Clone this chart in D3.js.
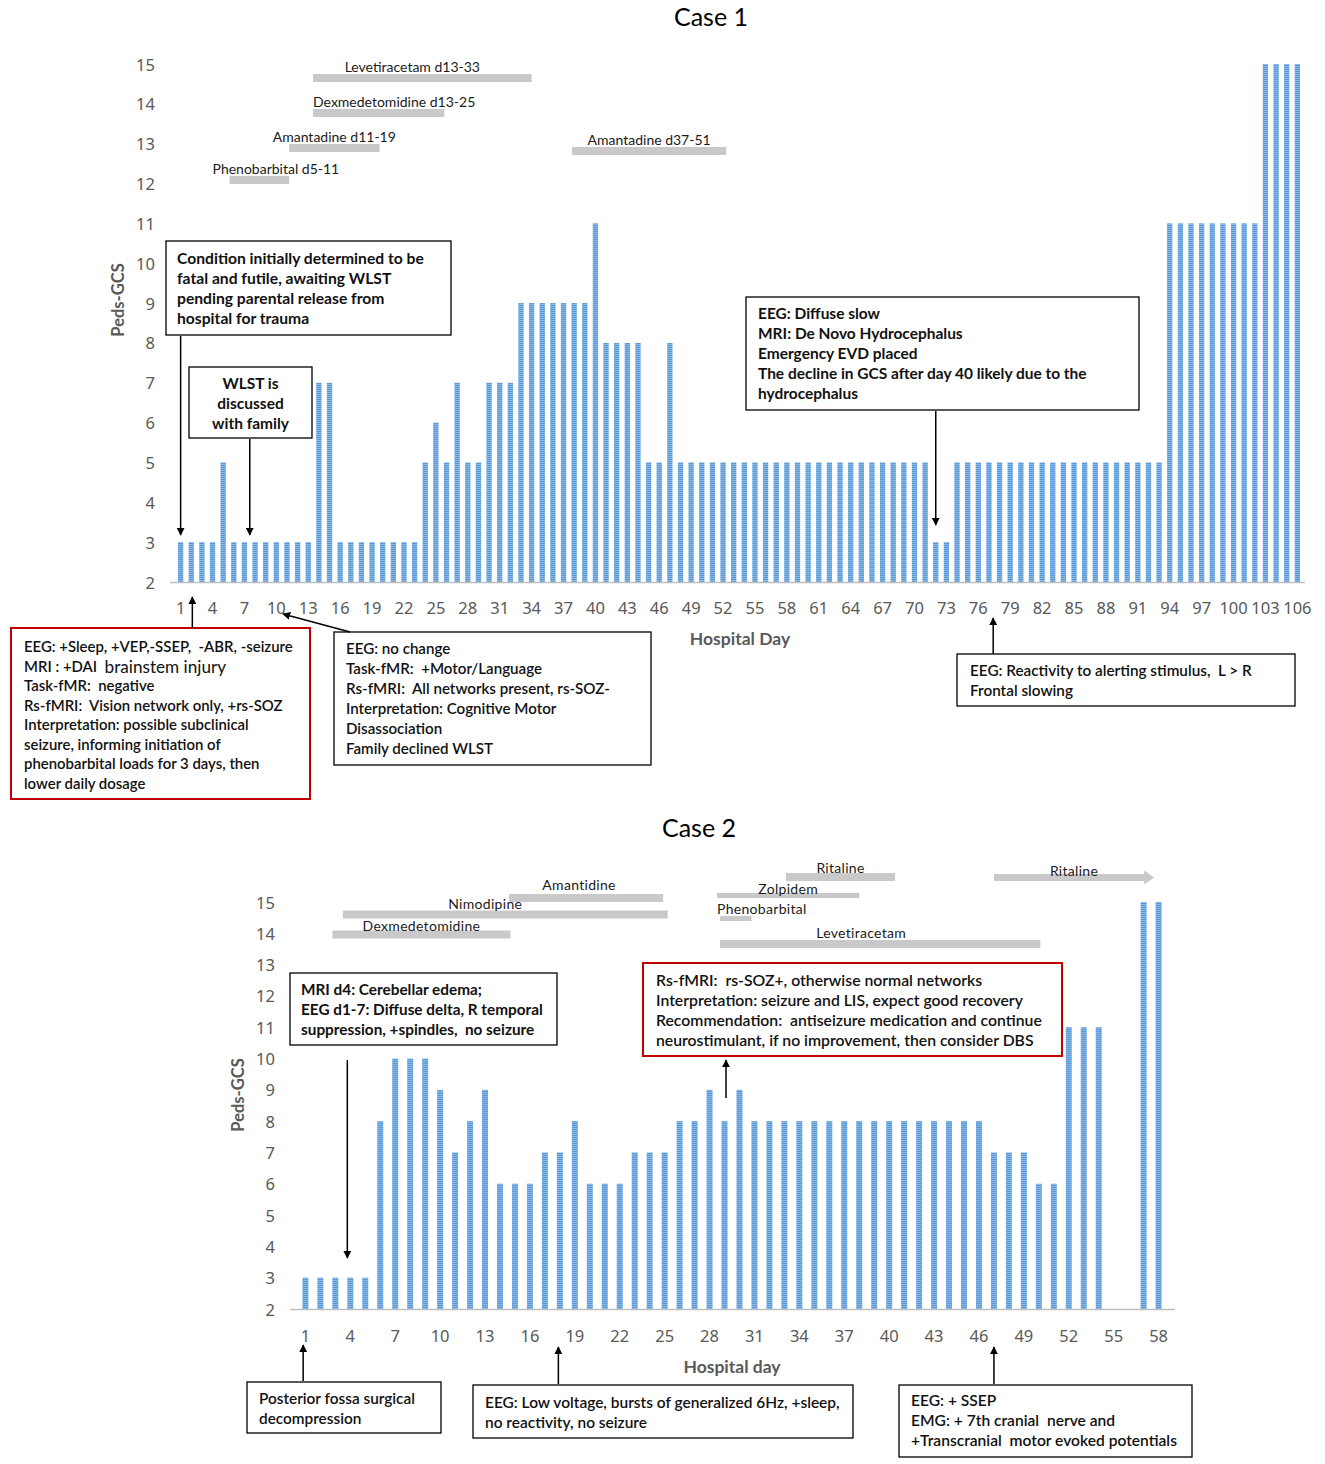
<!DOCTYPE html>
<html>
<head>
<meta charset="utf-8">
<script src="https://cdn.jsdelivr.net/npm/d3@7"></script>
<style>
  html, body { margin: 0; padding: 0; background: #fff; }
  svg { display: block; }
  text { white-space: pre; }
</style>
</head>
<body>
<svg id="chart" width="1325" height="1464"></svg>
<script>
// ---------------- DATA ----------------
const case1Days = d3.range(1, 107);
const case1Values = [
  3,3,3,3,5,3,3,3,3,3,
  3,3,3,7,7,3,3,3,3,3,
  3,3,3,5,6,5,7,5,5,7,
  7,7,9,9,9,9,9,9,9,11,
  8,8,8,8,5,5,8,5,5,5,
  5,5,5,5,5,5,5,5,5,5,
  5,5,5,5,5,5,5,5,5,5,
  5,3,3,5,5,5,5,5,5,5,
  5,5,5,5,5,5,5,5,5,5,
  5,5,5,11,11,11,11,11,11,11,
  11,11,15,15,15,15
];
const case1Ticks = d3.range(1, 107, 3);

const case2Days = d3.range(1, 59);
const case2Values = [
  3,3,3,3,3,8,10,10,10,9,
  7,8,9,6,6,6,7,7,8,6,
  6,6,7,7,7,8,8,9,8,9,
  8,8,8,8,8,8,8,8,8,8,
  8,8,8,8,8,8,7,7,7,6,
  6,11,11,11,null,null,15,15
];
const case2Ticks = d3.range(1, 59, 3);
const yTicks = d3.range(2, 16);

// medication timelines (day units)
const case1Meds = [
  {label: "Levetiracetam d13-33", start: 13.45, end: 34.0, row: 0, anchor: "middle"},
  {label: "Dexmedetomidine d13-25", start: 13.45, end: 25.8, row: 1, anchor: "start"},
  {label: "Amantadine d11-19", start: 11.2, end: 19.7, row: 2, anchor: "middle"},
  {label: "Phenobarbital d5-11", start: 5.6, end: 11.2, row: 3, anchor: "left5"},
  {label: "Amantadine d37-51", start: 37.8, end: 52.3, row: 4, anchor: "middle"}
];
const case2Meds = [
  {label: "Dexmedetomidine", start: 2.8, end: 14.7, arrow: false},
  {label: "Nimodipine", start: 3.5, end: 25.2, arrow: false},
  {label: "Amantidine", start: 14.6, end: 24.9, arrow: false},
  {label: "Ritaline", start: 33.1, end: 40.4, arrow: false},
  {label: "Zolpidem", start: 28.5, end: 38.0, arrow: false},
  {label: "Phenobarbital", start: 28.7, end: 30.8, arrow: false},
  {label: "Levetiracetam", start: 28.7, end: 50.1, arrow: false},
  {label: "Ritaline", start: 47.0, end: 57.7, arrow: true}
];

// ---------------- SETUP ----------------
const svg = d3.select("#chart");
const FONT = "Lato, 'Noto Sans', 'DejaVu Sans', sans-serif";
const TICKFONT = "'Noto Sans', 'DejaVu Sans', sans-serif";
const medGray = "#c9c9c9";
const axisGray = "#595959";

const defs = svg.append("defs");
const pat = defs.append("pattern").attr("id", "barpat")
  .attr("patternUnits", "userSpaceOnUse").attr("width", 4).attr("height", 2);
pat.append("rect").attr("width", 4).attr("height", 2).attr("fill", "#5d9bd6");
pat.append("rect").attr("width", 4).attr("height", 1).attr("fill", "#86b6e6");

const mk = defs.append("marker").attr("id", "arrow")
  .attr("viewBox", "0 0 10 10").attr("refX", 9).attr("refY", 5)
  .attr("markerWidth", 8).attr("markerHeight", 8).attr("markerUnits", "userSpaceOnUse")
  .attr("orient", "auto-start-reverse");
mk.append("path").attr("d", "M0,0 L10,5 L0,10 z").attr("fill", "#000");

function textBox(g, b) {
  const pad = b.pad || 12;
  g.append("rect").attr("x", b.x).attr("y", b.y).attr("width", b.w).attr("height", b.h)
    .attr("fill", "#fff").attr("stroke", b.stroke || "#000").attr("stroke-width", b.sw || 1.3);
  const t = g.append("g");
  let size = b.size || 14;
  const texts = b.lines.map((ln, i) => {
    const tx = t.append("text")
      .attr("x", b.align === "middle" ? b.x + b.w / 2 : b.x + pad)
      .attr("y", b.firstY + i * (b.lh || 20))
      .attr("dominant-baseline", "central")
      .attr("text-anchor", b.align === "middle" ? "middle" : "start")
      .attr("font-family", FONT)
      .attr("font-weight", b.weight || "normal")
      .attr("fill", "#111");
    if (Array.isArray(ln)) {
      ln.forEach(seg => {
        tx.append("tspan").text(seg.t).attr("font-size", seg.big ? "1.15em" : null)
          .attr("font-weight", seg.big ? "normal" : null);
      });
    } else tx.text(ln);
    return tx;
  });
  const target = b.target || (b.w - 2 * pad);
  texts.forEach(tx => tx.attr("font-size", size));
  const maxW = d3.max(texts, tx => tx.node().getComputedTextLength());
  if (maxW > target) {
    size = size * target / maxW;
    texts.forEach(tx => tx.attr("font-size", size));
  }
}

function arrow(g, x1, y1, x2, y2) {
  g.append("line").attr("x1", x1).attr("y1", y1).attr("x2", x2).attr("y2", y2)
    .attr("stroke", "#000").attr("stroke-width", 1.5).attr("marker-end", "url(#arrow)");
}

// ---------------- CASE 1 ----------------
(function () {
  const g = svg.append("g");
  const x = d3.scaleBand().domain(case1Days).range([172.65, 1305.35]).padding(0.5);
  const xl = d3.scaleLinear().domain([1, 106]).range([x(1) + x.bandwidth() / 2, x(106) + x.bandwidth() / 2]);
  const y = d3.scaleLinear().domain([2, 15]).range([582, 64]);

  g.append("text").attr("x", 711).attr("y", 16).attr("text-anchor", "middle")
    .attr("dominant-baseline", "central").attr("font-family", FONT).attr("font-size", 25)
    .attr("fill", "#000").text("Case 1");

  g.selectAll(".yt").data(yTicks).join("text")
    .attr("x", 155).attr("y", d => y(d)).attr("text-anchor", "end")
    .attr("dominant-baseline", "central").attr("font-family", TICKFONT).attr("font-size", 16.5)
    .attr("fill", axisGray).text(d => d);

  const data = case1Days.map((d, i) => ({day: d, v: case1Values[i]})).filter(d => d.v != null);
  g.selectAll(".bar").data(data).join("rect")
    .attr("x", d => x(d.day)).attr("width", x.bandwidth())
    .attr("y", d => y(d.v)).attr("height", d => y(2) - y(d.v))
    .attr("fill", "url(#barpat)");

  g.append("line").attr("x1", 170).attr("x2", 1305).attr("y1", y(2) + 0.5).attr("y2", y(2) + 0.5)
    .attr("stroke", "#bfbfbf").attr("stroke-width", 1.5);

  g.selectAll(".xt").data(case1Ticks).join("text")
    .attr("x", d => x(d) + x.bandwidth() / 2).attr("y", 607).attr("text-anchor", "middle")
    .attr("dominant-baseline", "central").attr("font-family", TICKFONT).attr("font-size", 16.5)
    .attr("fill", axisGray).text(d => d);

  g.append("text").attr("x", 740).attr("y", 638).attr("text-anchor", "middle")
    .attr("dominant-baseline", "central").attr("font-family", FONT).attr("font-weight", "bold")
    .attr("font-size", 17.5).attr("fill", axisGray).text("Hospital Day");
  g.append("text").attr("transform", "translate(118,300) rotate(-90)").attr("text-anchor", "middle")
    .attr("dominant-baseline", "central").attr("font-family", FONT).attr("font-weight", "bold")
    .attr("font-size", 16.5).attr("fill", axisGray).text("Peds-GCS");

  const rowY = [78, 113, 148, 180, 151];
  case1Meds.forEach(m => {
    const by = rowY[m.row];
    g.append("rect").attr("x", xl(m.start)).attr("width", xl(m.end) - xl(m.start))
      .attr("y", by - 4).attr("height", 8).attr("fill", medGray);
    let tx, anchor = "middle";
    if (m.anchor === "start") { tx = xl(m.start); anchor = "start"; }
    else if (m.anchor === "left5") { tx = xl(m.start) - 17; anchor = "start"; }
    else tx = (xl(m.start) + xl(m.end)) / 2 + (m.row === 0 ? -10 : 0);
    g.append("text").attr("x", tx).attr("y", by - 12).attr("text-anchor", anchor)
      .attr("dominant-baseline", "central").attr("font-family", FONT).attr("font-size", 14)
      .attr("fill", "#1a1a1a").text(m.label);
  });

  textBox(g, {x: 166, y: 241, w: 285, h: 94, pad: 11, firstY: 258, weight: "bold", size: 16,
    lines: ["Condition initially determined to be", "fatal and futile, awaiting WLST",
            "pending parental release from", "hospital for trauma"], target: 247});
  textBox(g, {x: 189, y: 367, w: 123, h: 71, align: "middle", firstY: 383, weight: "bold", size: 15.5,
    lines: ["WLST is", "discussed", "with family"]});
  textBox(g, {x: 746, y: 297, w: 393, h: 113, pad: 12, firstY: 313, weight: "bold", size: 16,
    lines: ["EEG: Diffuse slow", "MRI: De Novo Hydrocephalus", "Emergency EVD placed",
            "The decline in GCS after day 40 likely due to the", "hydrocephalus"], target: 329});
  textBox(g, {x: 11, y: 628, w: 299, h: 171, pad: 13, firstY: 646, lh: 19.5, size: 16, weight: "600",
    stroke: "#c00000", sw: 2,
    lines: ["EEG: +Sleep, +VEP,-SSEP,  -ABR, -seizure",
            [{t: "MRI : +DAI  "}, {t: "brainstem injury", big: true}],
            "Task-fMR:  negative", "Rs-fMRI:  Vision network only, +rs-SOZ",
            "Interpretation: possible subclinical", "seizure, informing initiation of",
            "phenobarbital loads for 3 days, then", "lower daily dosage"], target: 269});
  textBox(g, {x: 334, y: 632, w: 317, h: 133, pad: 12, firstY: 648, size: 16, weight: "600",
    lines: ["EEG: no change", "Task-fMR:  +Motor/Language", "Rs-fMRI:  All networks present, rs-SOZ-",
            "Interpretation: Cognitive Motor", "Disassociation", "Family declined WLST"], target: 264});
  textBox(g, {x: 957, y: 654, w: 338, h: 52, pad: 13, firstY: 670, size: 16, weight: "600",
    lines: ["EEG: Reactivity to alerting stimulus,  L > R", "Frontal slowing"], target: 282});

  arrow(g, xl(1), 336, xl(1), 535);
  arrow(g, xl(7.5), 439, xl(7.5), 535);
  arrow(g, xl(72), 411, xl(72), 525);
  arrow(g, xl(2.1), 628, xl(2.1), 597);
  arrow(g, 350, 632, 283, 614);
  arrow(g, xl(77.4), 654, xl(77.4), 618);
})();

// ---------------- CASE 2 ----------------
(function () {
  const g = svg.append("g");
  const x = d3.scaleBand().domain(case2Days).range([293.44, 1170.56]).padding(0.6);
  const xl = d3.scaleLinear().domain([1, 58]).range([x(1) + x.bandwidth() / 2, x(58) + x.bandwidth() / 2]);
  const y = d3.scaleLinear().domain([2, 15]).range([1309, 902]);

  g.append("text").attr("x", 699).attr("y", 827).attr("text-anchor", "middle")
    .attr("dominant-baseline", "central").attr("font-family", FONT).attr("font-size", 25)
    .attr("fill", "#000").text("Case 2");

  g.selectAll(".yt").data(yTicks).join("text")
    .attr("x", 275).attr("y", d => y(d)).attr("text-anchor", "end")
    .attr("dominant-baseline", "central").attr("font-family", TICKFONT).attr("font-size", 16.5)
    .attr("fill", axisGray).text(d => d);

  const data = case2Days.map((d, i) => ({day: d, v: case2Values[i]})).filter(d => d.v != null);
  g.selectAll(".bar").data(data).join("rect")
    .attr("x", d => x(d.day)).attr("width", x.bandwidth())
    .attr("y", d => y(d.v)).attr("height", d => y(2) - y(d.v))
    .attr("fill", "url(#barpat)");

  g.append("line").attr("x1", 290).attr("x2", 1175).attr("y1", y(2) + 0.5).attr("y2", y(2) + 0.5)
    .attr("stroke", "#bfbfbf").attr("stroke-width", 1.5);

  g.selectAll(".xt").data(case2Ticks).join("text")
    .attr("x", d => x(d) + x.bandwidth() / 2).attr("y", 1335).attr("text-anchor", "middle")
    .attr("dominant-baseline", "central").attr("font-family", TICKFONT).attr("font-size", 16.5)
    .attr("fill", axisGray).text(d => d);

  g.append("text").attr("x", 732).attr("y", 1366).attr("text-anchor", "middle")
    .attr("dominant-baseline", "central").attr("font-family", FONT).attr("font-weight", "bold")
    .attr("font-size", 17.5).attr("fill", axisGray).text("Hospital day");
  g.append("text").attr("transform", "translate(238,1095) rotate(-90)").attr("text-anchor", "middle")
    .attr("dominant-baseline", "central").attr("font-family", FONT).attr("font-weight", "bold")
    .attr("font-size", 16.5).attr("fill", axisGray).text("Peds-GCS");

  const medLayout = [
    {by: 934.5, ly: 925, lx: "c", dx: 0},
    {by: 914.5, ly: 903, lx: "c", dx: -20},
    {by: 898, ly: 884, lx: "c", dx: -7},
    {by: 877, ly: 867, lx: "c", dx: 0},
    {by: 895.5, ly: 888, lx: "c", dx: 0},
    {by: 918.5, ly: 908, lx: "s", dx: -3},
    {by: 944, ly: 932, lx: "c", dx: -19},
    {by: 877.5, ly: 870, lx: "c", dx: 0}
  ];
  case2Meds.forEach((m, i) => {
    const L = medLayout[i];
    const x0 = xl(m.start), x1 = xl(m.end);
    const th = (m.label === "Phenobarbital" || m.label === "Zolpidem") ? 5 : 8;
    if (m.arrow) {
      g.append("rect").attr("x", x0).attr("width", x1 - x0 - 9).attr("y", L.by - 3.5).attr("height", 7).attr("fill", medGray);
      g.append("path").attr("d", `M${x1 - 10},${L.by - 7} L${x1},${L.by} L${x1 - 10},${L.by + 7} Z`).attr("fill", medGray);
    } else {
      g.append("rect").attr("x", x0).attr("width", x1 - x0).attr("y", L.by - th / 2).attr("height", th).attr("fill", medGray);
    }
    g.append("text")
      .attr("x", L.lx === "s" ? x0 + L.dx : (x0 + x1) / 2 + L.dx)
      .attr("y", L.ly).attr("text-anchor", L.lx === "s" ? "start" : "middle")
      .attr("dominant-baseline", "central").attr("font-family", FONT).attr("font-size", 14)
      .attr("letter-spacing", 0.3).attr("fill", "#1a1a1a").text(m.label);
  });

  textBox(g, {x: 290, y: 973, w: 267, h: 72, pad: 11, firstY: 989, size: 16, weight: "bold",
    lines: ["MRI d4: Cerebellar edema;", "EEG d1-7: Diffuse delta, R temporal",
            "suppression, +spindles,  no seizure"], target: 242});
  textBox(g, {x: 643, y: 963, w: 419, h: 93, pad: 13, firstY: 979, size: 16, weight: "600",
    stroke: "#c00000", sw: 2,
    lines: ["Rs-fMRI:  rs-SOZ+, otherwise normal networks",
            "Interpretation: seizure and LIS, expect good recovery",
            "Recommendation:  antiseizure medication and continue",
            "neurostimulant, if no improvement, then consider DBS"], target: 386});
  textBox(g, {x: 247, y: 1382, w: 194, h: 51, pad: 12, firstY: 1398, size: 16, weight: "600",
    lines: ["Posterior fossa surgical", "decompression"], target: 156});
  textBox(g, {x: 473, y: 1385, w: 380, h: 53, pad: 12, firstY: 1402, size: 16, weight: "600",
    lines: ["EEG: Low voltage, bursts of generalized 6Hz, +sleep,", "no reactivity, no seizure"], target: 355});
  textBox(g, {x: 899, y: 1385, w: 293, h: 72, pad: 12, firstY: 1400, size: 16, weight: "600",
    lines: ["EEG: + SSEP", "EMG: + 7th cranial  nerve and", "+Transcranial  motor evoked potentials"], target: 266});

  arrow(g, xl(3.8), 1060, xl(3.8), 1258);
  arrow(g, xl(29.1), 1098, xl(29.1), 1060);
  arrow(g, xl(0.85), 1381, xl(0.85), 1345);
  arrow(g, xl(17.9), 1384, xl(17.9), 1347);
  arrow(g, xl(47), 1384, xl(47), 1347);
})();
</script>
</body>
</html>
